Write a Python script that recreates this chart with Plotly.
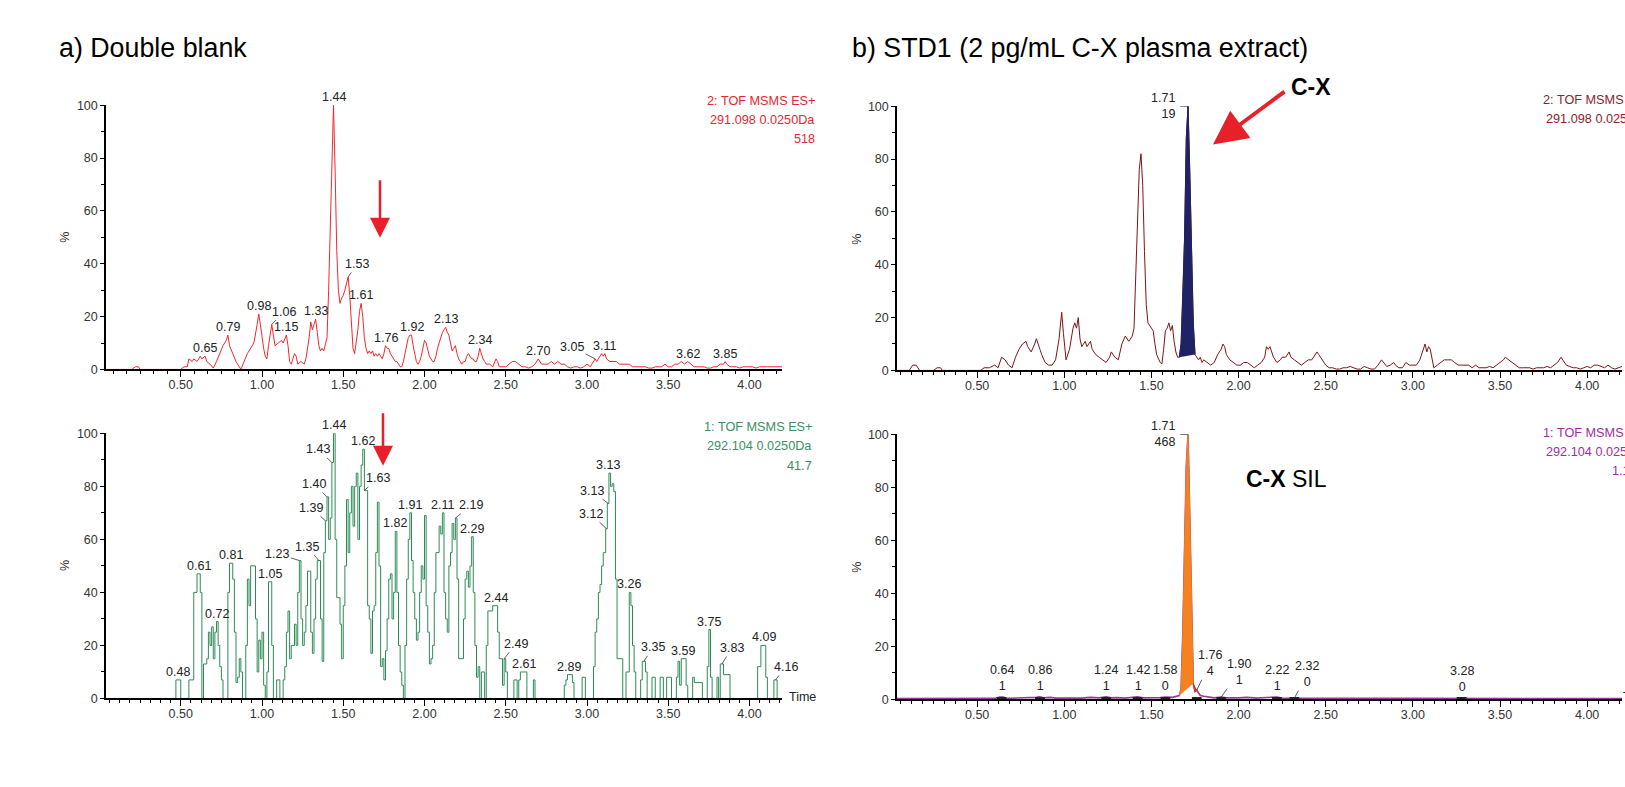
import plotly.graph_objects as go

W, H = 1625, 787
FONT = "Arial, 'Liberation Sans', Helvetica, sans-serif"

# ------------------------------------------------------------------ data
TIME_RANGE = [0.04, 4.2]
TIME_TICKS = [0.5, 1.0, 1.5, 2.0, 2.5, 3.0, 3.5, 4.0]
TIME_TICK_TEXT = ["0.50", "1.00", "1.50", "2.00", "2.50", "3.00", "3.50", "4.00"]
PCT_TICKS = [0, 20, 40, 60, 80, 100]
PCT_TICK_TEXT = ["0", "20", "40", "60", "80", "100"]

# a) double blank - channel 2 (291.098)
BLANK_291_T = [0.04, 0.20, 0.22, 0.24, 0.25, 0.50, 0.52, 0.54, 0.55, 0.57, 0.58, 0.60, 0.62, 0.63, 0.65, 0.66,
               0.68, 0.70, 0.72, 0.74, 0.76, 0.78, 0.79, 0.80, 0.82, 0.84, 0.86, 0.87, 0.89, 0.91, 0.93, 0.95,
               0.97, 0.98, 0.99, 1.00, 1.01, 1.02, 1.03, 1.04, 1.05, 1.06, 1.07, 1.08, 1.10, 1.12, 1.13, 1.15,
               1.16, 1.17, 1.18, 1.19, 1.20, 1.21, 1.22, 1.24, 1.26, 1.27, 1.28, 1.29, 1.30, 1.31, 1.32, 1.33,
               1.34, 1.35, 1.36, 1.37, 1.38, 1.39, 1.40, 1.41, 1.42, 1.43, 1.44, 1.45, 1.46, 1.47, 1.48, 1.49,
               1.50, 1.51, 1.52, 1.53, 1.54, 1.55, 1.56, 1.57, 1.58, 1.59, 1.60, 1.61, 1.62, 1.63, 1.64, 1.65,
               1.66, 1.67, 1.68, 1.69, 1.70, 1.71, 1.72, 1.73, 1.74, 1.75, 1.76, 1.77, 1.78, 1.79, 1.80, 1.81,
               1.82, 1.83, 1.84, 1.85, 1.86, 1.87, 1.88, 1.89, 1.90, 1.91, 1.92, 1.93, 1.94, 1.95, 1.96, 1.97,
               1.98, 1.99, 2.00, 2.01, 2.02, 2.03, 2.04, 2.05, 2.06, 2.07, 2.08, 2.09, 2.10, 2.11, 2.12, 2.13,
               2.14, 2.15, 2.16, 2.17, 2.18, 2.19, 2.20, 2.21, 2.22, 2.23, 2.24, 2.25, 2.26, 2.27, 2.28, 2.29,
               2.30, 2.31, 2.32, 2.33, 2.34, 2.35, 2.36, 2.37, 2.38, 2.40, 2.42, 2.44, 2.45, 2.46, 2.48, 2.50,
               2.52, 2.54, 2.56, 2.58, 2.60, 2.62, 2.64, 2.66, 2.68, 2.70, 2.71, 2.72, 2.74, 2.76, 2.78, 2.80,
               2.82, 2.84, 2.86, 2.88, 2.90, 2.92, 2.94, 2.96, 2.98, 3.00, 3.02, 3.04, 3.05, 3.06, 3.08, 3.09,
               3.10, 3.11, 3.12, 3.14, 3.16, 3.18, 3.20, 3.22, 3.24, 3.26, 3.28, 3.30, 3.32, 3.34, 3.36, 3.38,
               3.40, 3.42, 3.44, 3.46, 3.48, 3.50, 3.52, 3.54, 3.56, 3.58, 3.60, 3.62, 3.64, 3.66, 3.68, 3.70,
               3.72, 3.74, 3.76, 3.78, 3.80, 3.82, 3.84, 3.85, 3.86, 3.88, 3.90, 3.92, 3.94, 3.96, 3.98, 4.00,
               4.02, 4.04, 4.06, 4.08, 4.10, 4.12, 4.14, 4.16, 4.18, 4.20]
BLANK_291_Y = [0, 0, 1, 1, 0, 0, 1, 1, 4, 3, 4, 3, 5, 4, 5, 3,
               2, 0.5, 3, 6, 9, 11, 13, 9, 6, 3, 1, 0, 3, 6, 8, 10,
               17, 21, 17, 12, 8, 5, 4, 9, 13, 17, 13, 9, 10, 11, 10, 13,
               9, 3, 2, 4, 6, 5, 2, 3, 2, 4, 8, 12, 18, 15, 17, 19,
               14, 9, 7, 8, 7, 10, 12, 30, 55, 85, 100, 75, 45, 30, 25, 27,
               28, 30, 33, 35, 28, 15, 8, 6, 10, 15, 22, 25, 20, 12, 8, 6,
               7, 6, 7, 5, 6, 5, 6, 5, 4, 6, 9, 8, 8, 6, 5, 4,
               3, 3, 2, 1, 1, 3, 6, 9, 12, 13, 13, 9, 6, 3, 2, 3,
               5, 8, 11, 10, 7, 5, 4, 3, 3, 5, 8, 10, 12, 14, 15, 16,
               14, 13, 10, 7, 8, 9, 6, 4, 3, 2, 3, 3, 5, 6, 5, 4,
               4, 3, 3, 5, 8, 6, 4, 3, 2, 2, 1, 4, 3, 1, 1, 1,
               2, 3, 3, 2, 1, 1, 0.5, 1, 2, 4, 3, 2, 2, 2, 3, 2,
               3, 2, 2, 1, 0.5, 1, 1, 0.5, 1, 2, 1, 3, 4, 3, 5, 6,
               5, 6, 4, 3, 3, 3, 2, 2, 2, 2, 1, 1, 1, 1, 1, 0.5,
               0.5, 1, 1, 1, 2, 1, 1, 2, 2, 3, 2, 3, 2, 1, 1, 1,
               1, 0.5, 0.5, 1, 1, 2, 2, 3, 2, 1, 1, 1, 0.5, 1, 1, 1,
               1, 0.5, 1, 1, 1, 1, 1, 1, 1, 1]

# a) double blank - channel 1 (292.104), stepped signal (value holds until next time)
BLANK_292_T = [0.04, 0.47, 0.50, 0.55, 0.58, 0.60, 0.62, 0.63, 0.64, 0.66, 0.67, 0.68, 0.69, 0.70, 0.71, 0.72,
               0.73, 0.74, 0.75, 0.76, 0.79, 0.80, 0.82, 0.83, 0.84, 0.85, 0.86, 0.87, 0.88, 0.90, 0.91, 0.92,
               0.93, 0.96, 0.97, 0.98, 0.99, 1.00, 1.01, 1.02, 1.03, 1.04, 1.06, 1.07, 1.09, 1.11, 1.13, 1.14,
               1.15, 1.16, 1.17, 1.18, 1.20, 1.21, 1.22, 1.23, 1.24, 1.25, 1.26, 1.27, 1.28, 1.30, 1.31, 1.32,
               1.33, 1.34, 1.36, 1.37, 1.38, 1.39, 1.40, 1.41, 1.42, 1.43, 1.44, 1.45, 1.46, 1.48, 1.49, 1.50,
               1.51, 1.52, 1.53, 1.54, 1.55, 1.56, 1.57, 1.58, 1.59, 1.60, 1.61, 1.62, 1.63, 1.65, 1.66, 1.67,
               1.68, 1.69, 1.70, 1.71, 1.72, 1.73, 1.74, 1.75, 1.76, 1.77, 1.78, 1.79, 1.80, 1.81, 1.82, 1.83,
               1.84, 1.85, 1.86, 1.87, 1.88, 1.89, 1.90, 1.91, 1.92, 1.93, 1.94, 1.95, 1.96, 1.97, 1.98, 1.99,
               2.00, 2.01, 2.02, 2.03, 2.04, 2.05, 2.06, 2.07, 2.09, 2.10, 2.11, 2.12, 2.13, 2.14, 2.15, 2.16,
               2.17, 2.18, 2.19, 2.20, 2.21, 2.24, 2.25, 2.26, 2.27, 2.28, 2.29, 2.30, 2.31, 2.32, 2.33, 2.34,
               2.35, 2.37, 2.38, 2.39, 2.42, 2.45, 2.46, 2.48, 2.49, 2.50, 2.51, 2.55, 2.57, 2.58, 2.59, 2.63,
               2.67, 2.68, 2.86, 2.87, 2.88, 2.91, 2.92, 2.97, 2.99, 3.04, 3.05, 3.06, 3.07, 3.08, 3.09, 3.10,
               3.115, 3.125, 3.135, 3.145, 3.155, 3.165, 3.175, 3.185, 3.22, 3.24, 3.26, 3.27, 3.28, 3.29, 3.30, 3.33,
               3.34, 3.36, 3.37, 3.40, 3.42, 3.45, 3.47, 3.49, 3.52, 3.55, 3.56, 3.57, 3.58, 3.61, 3.62, 3.65,
               3.66, 3.71, 3.74, 3.75, 3.76, 3.77, 3.80, 3.81, 3.82, 3.84, 3.88, 4.05, 4.07, 4.10, 4.11, 4.15,
               4.17, 4.20]
BLANK_292_Y = [0, 7, 0, 7, 40, 47, 40, 0, 13, 15, 25, 20, 27, 15, 25, 29,
               20, 12, 7, 0, 40, 51, 45, 25, 6, 8, 15, 10, 0, 20, 45, 35,
               50, 30, 10, 22, 15, 25, 5, 0, 10, 44, 20, 0, 7, 0, 7, 12,
               25, 33, 15, 20, 28, 20, 40, 52, 30, 20, 25, 35, 48, 25, 17, 30,
               45, 52, 30, 14, 55, 67, 76, 60, 68, 89, 100, 60, 38, 28, 15, 35,
               50, 75, 55, 70, 80, 65, 80, 85, 60, 80, 88, 94, 78.5, 35, 30, 17,
               33, 35, 55, 74, 50, 12, 15, 7, 18, 30, 45, 47, 30, 40, 63, 40,
               20, 10, 5, 0, 20, 45, 60, 70, 52, 40, 30, 22, 25, 40, 50, 45,
               69, 35, 25, 13, 15, 20, 40, 55, 65, 62, 70, 40, 30, 25, 50, 55,
               66, 60, 68, 45, 15, 30, 45, 48, 42, 50, 61, 40, 20, 8, 12, 0,
               10, 0, 20, 33, 35, 25, 15, 5, 15, 10, 0, 7, 0, 7, 10, 0,
               7, 0, 5, 7, 9, 6, 0, 8, 0, 12, 25, 30, 40, 43, 50, 55,
               64, 73.5, 85, 80, 81, 78, 45, 15, 0, 10, 40, 35, 20, 10, 0, 7,
               14, 10, 0, 8, 0, 8, 0, 8, 0, 8, 14, 5, 15, 5, 0, 8,
               6, 0, 12, 26, 8, 0, 8, 0, 13, 9, 0, 12, 20, 8, 0, 7,
               0, 0]

# b) STD1 - channel 2 (291.098)
STD_291_T = [0.04, 0.11, 0.13, 0.15, 0.17, 0.25, 0.27, 0.29, 0.30, 0.52, 0.54, 0.57, 0.60, 0.62, 0.64, 0.66,
             0.68, 0.70, 0.72, 0.74, 0.76, 0.78, 0.79, 0.81, 0.83, 0.84, 0.86, 0.87, 0.89, 0.91, 0.93, 0.95,
             0.97, 0.985, 0.995, 1.01, 1.03, 1.05, 1.06, 1.07, 1.08, 1.09, 1.10, 1.12, 1.13, 1.15, 1.16, 1.18,
             1.20, 1.22, 1.24, 1.26, 1.27, 1.29, 1.31, 1.33, 1.35, 1.37, 1.39, 1.40, 1.41, 1.42, 1.43, 1.44,
             1.45, 1.46, 1.47, 1.48, 1.49, 1.51, 1.52, 1.53, 1.55, 1.56, 1.57, 1.58, 1.59, 1.60, 1.61, 1.62,
             1.63, 1.64, 1.65, 1.66, 1.67, 1.68, 1.69, 1.70, 1.71, 1.72, 1.73, 1.74, 1.75, 1.76, 1.77, 1.78,
             1.79, 1.80, 1.82, 1.84, 1.86, 1.88, 1.90, 1.91, 1.92, 1.93, 1.95, 1.97, 1.99, 2.01, 2.03, 2.05,
             2.07, 2.09, 2.11, 2.13, 2.15, 2.16, 2.17, 2.18, 2.19, 2.20, 2.22, 2.24, 2.25, 2.27, 2.29, 2.30,
             2.32, 2.34, 2.36, 2.38, 2.40, 2.42, 2.44, 2.45, 2.46, 2.48, 2.50, 2.52, 2.54, 2.56, 2.58, 2.60,
             2.62, 2.64, 2.66, 2.68, 2.70, 2.72, 2.74, 2.76, 2.78, 2.80, 2.82, 2.83, 2.85, 2.87, 2.89, 2.90,
             2.92, 2.94, 2.96, 2.98, 3.00, 3.02, 3.04, 3.05, 3.06, 3.07, 3.08, 3.09, 3.10, 3.11, 3.12, 3.14,
             3.16, 3.18, 3.20, 3.22, 3.24, 3.26, 3.28, 3.30, 3.32, 3.34, 3.36, 3.38, 3.40, 3.42, 3.44, 3.46,
             3.48, 3.50, 3.52, 3.53, 3.55, 3.57, 3.59, 3.61, 3.63, 3.65, 3.67, 3.69, 3.71, 3.73, 3.75, 3.77,
             3.79, 3.81, 3.83, 3.85, 3.86, 3.88, 3.90, 3.92, 3.94, 3.96, 3.98, 4.00, 4.02, 4.04, 4.06, 4.08,
             4.10, 4.12, 4.14, 4.16, 4.18, 4.20]
STD_291_Y = [0, 0, 2, 2, 0, 0, 1, 1, 0, 0, 1, 1, 2, 1, 5, 4,
             2, 1, 5, 8, 10, 11, 9, 7, 10, 12, 8, 6, 3, 2, 2, 4,
             12, 22, 14, 4, 8, 16, 18, 16, 20, 12, 9, 11, 9, 11, 8, 6,
             5, 4, 3, 5, 7, 5, 4, 10, 13, 11, 13, 16, 35, 62, 76, 82,
             70, 45, 25, 18, 17, 15, 10, 6, 3, 2.5, 8, 15, 16, 18, 15, 17,
             11, 7, 5, 5, 10, 28, 50, 88, 100, 75, 45, 18, 6, 5, 4, 5,
             3, 4, 3, 2, 3, 6, 8, 10, 9, 6, 4, 3, 2, 2, 3, 3,
             2, 1, 2, 3, 5, 9, 8, 9, 7, 5, 3, 4, 5, 5, 7, 5,
             4, 3, 2, 3, 4, 4, 6, 7, 6, 4, 2, 1, 1, 0.5, 0.5, 1,
             1, 1.5, 1, 0.5, 0.5, 1.5, 1, 0.5, 0.5, 2, 4, 3, 1.5, 2, 3, 2,
             1, 1, 3, 2, 2, 2, 4, 6, 8, 10, 7, 9, 8, 4, 1, 2,
             3, 4, 4, 4, 3, 2, 2, 2, 2, 1, 2, 1, 1, 1, 1.5, 1,
             2, 3, 4, 5, 4, 3, 2, 1, 1, 1, 1, 0.5, 1, 1, 1, 1.5,
             1, 2, 3, 5, 4, 2, 1.5, 1, 1, 0.5, 1, 1.5, 1, 2, 2, 1.5,
             1, 2, 1, 0.5, 1, 1.5]
STD_291_WINDOW = [1.66, 1.75]

# b) STD1 - channel 1 (292.104, SIL)
STD_292_T = [0.04, 0.50, 0.60, 0.63, 0.65, 0.67, 0.80, 0.84, 0.86, 0.88, 0.92, 0.95, 1.10, 1.15, 1.20, 1.24,
             1.27, 1.30, 1.35, 1.40, 1.42, 1.45, 1.50, 1.55, 1.58, 1.62, 1.66, 1.67, 1.68, 1.69, 1.70, 1.71,
             1.72, 1.73, 1.74, 1.75, 1.76, 1.77, 1.78, 1.80, 1.83, 1.86, 1.90, 1.93, 2.00, 2.05, 2.10, 2.15,
             2.20, 2.22, 2.25, 2.32, 2.40, 3.00, 3.18, 3.20, 3.22, 3.28, 3.30, 4.20]
STD_292_Y = [0.3, 0.3, 0.4, 0.9, 0.9, 0.4, 0.5, 0.8, 1.0, 0.6, 0.8, 0.5, 0.5, 0.8, 0.6, 1.0,
             0.6, 0.7, 0.5, 0.7, 1.0, 0.6, 0.6, 0.7, 0.9, 0.8, 1.5, 4, 25, 55, 88, 100,
             72, 35, 6, 3, 3.5, 2.5, 1.5, 1.2, 1.0, 0.6, 0.9, 0.6, 0.6, 0.8, 0.5, 0.6,
             0.7, 0.9, 0.5, 0.5, 0.3, 0.3, 0.3, 0.5, 0.3, 0.4, 0.3, 0.3]
STD_292_WINDOW = [1.66, 1.74]
STD_292_MINOR_WINDOW = [1.74, 1.78]

# peak labels (retention time, height %)
BLANK_291_PEAKS = [(0.65, 5), (0.79, 13), (0.98, 21), (1.06, 17), (1.15, 13), (1.33, 19), (1.44, 100),
                   (1.53, 35), (1.61, 25), (1.76, 9), (1.92, 13), (2.13, 16), (2.34, 8), (2.70, 4),
                   (3.05, 4), (3.11, 6), (3.62, 3), (3.85, 3)]
BLANK_292_PEAKS = [(0.48, 7), (0.61, 47), (0.72, 29), (0.81, 51), (1.05, 44), (1.23, 52), (1.35, 52),
                   (1.39, 67), (1.40, 76), (1.43, 89), (1.44, 100), (1.62, 94), (1.63, 78.5), (1.82, 63),
                   (1.91, 70), (2.11, 70), (2.19, 68), (2.29, 61), (2.44, 35), (2.49, 15), (2.61, 10),
                   (2.89, 9), (3.13, 85), (3.13, 73.5), (3.12, 64), (3.26, 40), (3.35, 14), (3.59, 15),
                   (3.75, 26), (3.83, 13), (4.09, 20), (4.16, 7)]
STD_291_APEX = (1.71, 100, "19")
STD_292_APEX = (1.71, 100, "468")
STD_292_SMALL = [(0.64, 1.0, "1"), (0.86, 1.0, "1"), (1.24, 1.0, "1"), (1.42, 1.0, "1"), (1.58, 0.9, "0"),
                 (1.76, 3.5, "4"), (1.90, 0.9, "1"), (2.22, 0.9, "1"), (2.32, 0.5, "0"), (3.28, 0.4, "0")]

HEAD_TL = ["2: TOF MSMS ES+", "291.098 0.0250Da", "518"]
HEAD_BL = ["1: TOF MSMS ES+", "292.104 0.0250Da", "41.7"]
HEAD_TR = ["2: TOF MSMS ES+", "291.098 0.0250Da", "47"]
HEAD_BR = ["1: TOF MSMS ES+", "292.104 0.0250Da", "1.16e3"]

# ------------------------------------------------------------------ layout helpers (pixel -> paper)
def px(x):
    return x / W


def py(y):
    return 1 - y / H


# leader-line offsets (pixels) for crowded labels
LEADERS_TL = {(1.06, 17): (12, -13), (1.53, 35): (9, -13), (3.05, 4): (-23, -12)}
LEADERS_BL = {(1.23, 52): (-22, -7), (1.35, 52): (-12, -14), (1.39, 67): (-14, -13), (1.40, 76): (-13, -13),
              (1.43, 89): (-14, -13), (1.63, 78.5): (14, -12), (2.19, 68): (16, -13), (2.49, 15): (12, -15),
              (3.13, 73.5): (-16, -13), (3.12, 64): (-16, -15), (3.35, 14): (9, -14), (3.83, 13): (10, -16),
              (4.16, 7): (10, -13)}
LEADERS_BR = {1.76: (13, -27), 1.90: (18, -25), 2.32: (13, -24)}

PANELS = {
    # name: (x domain px, y px of 100%, y px of 0%, minor tick step)
    "TL": ((106, 782), 100, 369, 1 / 12),
    "BL": ((106, 782), 434, 704, 0.0625),
    "TR": ((897, 1622), 101, 370, 0.0625),
    "BR": ((897, 1622), 435, 705, 0.0625),
}
AX = {"TL": ("x", "y", ""), "BL": ("x2", "y2", "2"), "TR": ("x3", "y3", "3"), "BR": ("x4", "y4", "4")}

fig = go.Figure()

RED = "#f0282d"
GREEN = "#2e8b57"
MAROON = "#7d1418"
PURPLE = "#98379a"
TXT = "#222222"

fig.add_trace(go.Scatter(x=BLANK_291_T, y=BLANK_291_Y, mode="lines", line=dict(color=RED, width=1),
                         xaxis="x", yaxis="y"))
fig.add_trace(go.Scatter(x=BLANK_292_T, y=BLANK_292_Y, mode="lines", line=dict(color=GREEN, width=1, shape="hv"),
                         xaxis="x2", yaxis="y2"))
fig.add_trace(go.Scatter(x=STD_291_T, y=STD_291_Y, mode="lines", line=dict(color=MAROON, width=1),
                         xaxis="x3", yaxis="y3"))
fig.add_trace(go.Scatter(x=STD_292_T, y=STD_292_Y, mode="lines", line=dict(color=PURPLE, width=1.6),
                         xaxis="x4", yaxis="y4"))


def window(ts, ys, lo, hi):
    pts = [(t, v) for t, v in zip(ts, ys) if lo - 1e-9 <= t <= hi + 1e-9]
    return [p[0] for p in pts], [p[1] for p in pts]


wx, wy = window(STD_291_T, STD_291_Y, *STD_291_WINDOW)
fig.add_trace(go.Scatter(x=wx, y=wy, mode="lines", fill="toself", fillcolor="#1f2366",
                         line=dict(color="#1f2366", width=1), xaxis="x3", yaxis="y3"))
wx, wy = window(STD_292_T, STD_292_Y, *STD_292_WINDOW)
fig.add_trace(go.Scatter(x=wx, y=wy, mode="lines", fill="toself", fillcolor="#f5821f",
                         line=dict(color="#f5821f", width=1), xaxis="x4", yaxis="y4"))
wx, wy = window(STD_292_T, STD_292_Y, *STD_292_MINOR_WINDOW)
fig.add_trace(go.Scatter(x=wx, y=wy, mode="lines", fill="toself", fillcolor="#e02a2a",
                         line=dict(color="#e02a2a", width=1), xaxis="x4", yaxis="y4"))
fig.add_trace(go.Scatter(x=[p[0] for p in STD_292_SMALL], y=[0.5 for _ in STD_292_SMALL], mode="markers",
                         marker=dict(symbol="line-ew", size=7, line=dict(color="#222222", width=2.5)),
                         xaxis="x4", yaxis="y4"))

layout = dict(width=W, height=H, margin=dict(l=0, r=0, t=0, b=0), showlegend=False,
              paper_bgcolor="white", plot_bgcolor="white", font=dict(family=FONT, color=TXT))

for name, (xd, y100, y0, minor_dt) in PANELS.items():
    xa, ya, suf = AX[name]
    layout["xaxis" + suf] = dict(
        domain=[px(xd[0]), px(xd[1])], range=TIME_RANGE, anchor=ya, showgrid=False, zeroline=False,
        showline=True, linecolor="black", linewidth=1.6, ticks="outside", ticklen=6, tickwidth=1,
        tickcolor="black", tickmode="array", tickvals=TIME_TICKS, ticktext=TIME_TICK_TEXT,
        tickfont=dict(size=12.5, color="#333333", family=FONT), ticklabelstandoff=-3,
        minor=dict(tick0=0.5, dtick=minor_dt, ticks="outside", ticklen=3, tickcolor="black", tickwidth=1),
    )
    layout["yaxis" + suf] = dict(
        domain=[py(y0), py(y100)], range=[0, 100], anchor=xa, showgrid=False, zeroline=False,
        showline=True, linecolor="black", linewidth=1.5, ticks="outside", ticklen=4, tickwidth=1,
        tickcolor="black", tickmode="array", tickvals=PCT_TICKS, ticktext=PCT_TICK_TEXT,
        tickfont=dict(size=12.5, color="#333333", family=FONT),
        minor=dict(dtick=10, tick0=0, ticks="outside", ticklen=3, tickcolor="black", tickwidth=1),
    )

annotations = []


def lab(xref, yref, x, y, text, **kw):
    d = dict(xref=xref, yref=yref, x=x, y=y, text=text, showarrow=False,
             font=dict(size=12.5, color=TXT, family=FONT))
    d.update(kw)
    annotations.append(d)


# titles
lab("paper", "paper", px(57), py(42), "a) Double blank", xanchor="left", yanchor="middle",
    font=dict(size=26.8, color="black", family=FONT))
lab("paper", "paper", px(850), py(42), "b) STD1 (2 pg/mL C-X plasma extract)", xanchor="left", yanchor="middle",
    font=dict(size=26.8, color="black", family=FONT))

# % axis labels
for xx, yy in [(65, 235), (65, 569), (857, 236), (857, 570)]:
    lab("paper", "paper", px(xx), py(yy), "%", textangle=-90, xanchor="center", yanchor="middle",
        font=dict(size=12.5, color=TXT, family=FONT))

# Time labels
lab("paper", "paper", px(787), py(702), "Time", xanchor="left", yanchor="middle")
lab("paper", "paper", px(1621), py(703), "Time", xanchor="left", yanchor="middle")

# channel headers
for lines, xr, ys, col in [(HEAD_TL, 817, (96, 115, 134), "#e8262d"),
                           (HEAD_BL, 814, (428, 447, 467), "#3a8f66"),
                           (HEAD_TR, 1653, (95, 114, 133), "#8f1d2c"),
                           (HEAD_BR, 1653, (434, 453, 472), "#9c2f9e")]:
    for line, yy in zip(lines, ys):
        lab("paper", "paper", px(xr), py(yy), line, xanchor="right", yanchor="middle",
            font=dict(size=12.7, color=col, family=FONT))

# peak labels
for peaks, leaders, xr, yr in [(BLANK_291_PEAKS, LEADERS_TL, "x", "y"), (BLANK_292_PEAKS, LEADERS_BL, "x2", "y2")]:
    for t, v in peaks:
        txt = f"{t:.2f}"
        if (t, v) in leaders:
            ax, ay = leaders[(t, v)]
            annotations.append(dict(xref=xr, yref=yr, x=t, y=v, text=txt, showarrow=True, arrowhead=0,
                                    arrowwidth=0.8, arrowcolor="#333333", ax=ax, ay=ay, standoff=0,
                                    font=dict(size=12.5, color=TXT, family=FONT)))
        else:
            lab(xr, yr, t, v, txt, xanchor="center", yanchor="bottom", yshift=-1)

# apex labels in b)
for apex, xr, yr in [(STD_291_APEX, "x3", "y3"), (STD_292_APEX, "x4", "y4")]:
    t, v, area = apex
    lab(xr, yr, t, v, f"{t:.2f}<br>{area}", xanchor="right", yanchor="middle", xshift=-11, align="right")

for t, v, area in STD_292_SMALL:
    txt = f"{t:.2f}<br>{area}"
    if t in LEADERS_BR:
        ax, ay = LEADERS_BR[t]
        annotations.append(dict(xref="x4", yref="y4", x=t, y=v, text=txt, showarrow=True, arrowhead=0,
                                arrowwidth=0.8, arrowcolor="#333333", ax=ax, ay=ay, standoff=0,
                                font=dict(size=12.5, color=TXT, family=FONT)))
    else:
        lab("x4", "y4", t, v, txt, xanchor="center", yanchor="bottom", yshift=2)

# red arrows
ARROW = "#e8202a"
annotations.append(dict(xref="paper", yref="paper", x=px(380), y=py(235), ax=0, ay=-59, text="",
                        showarrow=True, arrowhead=2, arrowsize=1.6, arrowwidth=2.5, arrowcolor=ARROW))
annotations.append(dict(xref="paper", yref="paper", x=px(383), y=py(467), ax=0, ay=-54, text="",
                        showarrow=True, arrowhead=2, arrowsize=1.6, arrowwidth=2.5, arrowcolor=ARROW))
annotations.append(dict(xref="paper", yref="paper", x=px(1213), y=py(140), ax=73, ay=-54, text="",
                        showarrow=True, arrowhead=2, arrowsize=1.7, arrowwidth=4, arrowcolor=ARROW))

lab("paper", "paper", px(1311), py(81), "<b>C-X</b>", xanchor="center", yanchor="middle",
    font=dict(size=23, color="black", family=FONT))
lab("paper", "paper", px(1244), py(481), "<b>C-X</b> SIL", xanchor="left", yanchor="middle",
    font=dict(size=23, color="black", family=FONT))

layout["annotations"] = annotations

# small dash linking apex label to peak top
shapes = []
for apex, xr, yr in [(STD_291_APEX, "x3", "y3"), (STD_292_APEX, "x4", "y4")]:
    t, v, _ = apex
    shapes.append(dict(type="line", xref=xr, yref=yr, x0=t - 0.045, x1=t, y0=v, y1=v,
                       line=dict(color="#222222", width=1)))
layout["shapes"] = shapes

fig.update_layout(**layout)
fig.write_html("out.html", config={"displayModeBar": False},
               post_script="document.body.style.margin='0px';document.body.style.padding='0px';")
